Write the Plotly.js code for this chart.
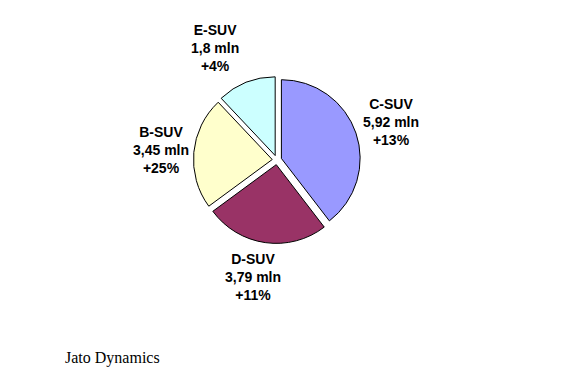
<!DOCTYPE html>
<html>
<head>
<meta charset="utf-8">
<script src="https://cdn.plot.ly/plotly-3.0.1.min.js"></script>
<style>html,body{margin:0;padding:0;background:#fff;}#chart{width:564px;height:372px;}</style>
</head>
<body>
<div id="chart"></div>
<script>
var categories = ["C-SUV", "D-SUV", "B-SUV", "E-SUV"];
var volumes = [5.92, 3.79, 3.45, 1.8];
var volumeLabels = ["5,92", "3,79", "3,45", "1,8"];
var growth = ["+13%", "+11%", "+25%", "+4%"];
var colors = ["#9999FF", "#993366", "#FFFFCC", "#CCFFFF"];
var labelPos = [[0.693, 0.672], [0.448, 0.255], [0.285, 0.597], [0.381, 0.871]];
var source = "Jato Dynamics";

var trace = {
  type: "pie",
  labels: categories,
  values: volumes,
  sort: false,
  direction: "clockwise",
  rotation: 0,
  pull: [0.06, 0.06, 0.06, 0.06],
  marker: {colors: colors, line: {color: "#000", width: 1}},
  textinfo: "none",
  hoverinfo: "label+value",
  showlegend: false,
  domain: {x: [0.343, 0.639], y: [0.3455, 0.7945]}
};

var annotations = categories.map(function (c, i) {
  return {
    xref: "paper", yref: "paper",
    x: labelPos[i][0], y: labelPos[i][1],
    xanchor: "center", yanchor: "middle",
    showarrow: false, align: "center",
    text: "<b>" + c + "<br>" + volumeLabels[i] + " mln<br>" + growth[i] + "</b>",
    font: {family: "Liberation Sans, Arial, sans-serif", size: 14, color: "#000"}
  };
});
annotations.push({
  xref: "paper", yref: "paper", x: 0.112, y: 0.038,
  xanchor: "left", yanchor: "middle", showarrow: false,
  text: source,
  font: {family: "Liberation Serif, Times New Roman, serif", size: 16, color: "#000"}
});

Plotly.newPlot("chart", [trace], {
  width: 564, height: 372,
  margin: {l: 0, r: 0, t: 0, b: 0},
  paper_bgcolor: "#fff",
  annotations: annotations
}, {staticPlot: true});
</script>
</body>
</html>
